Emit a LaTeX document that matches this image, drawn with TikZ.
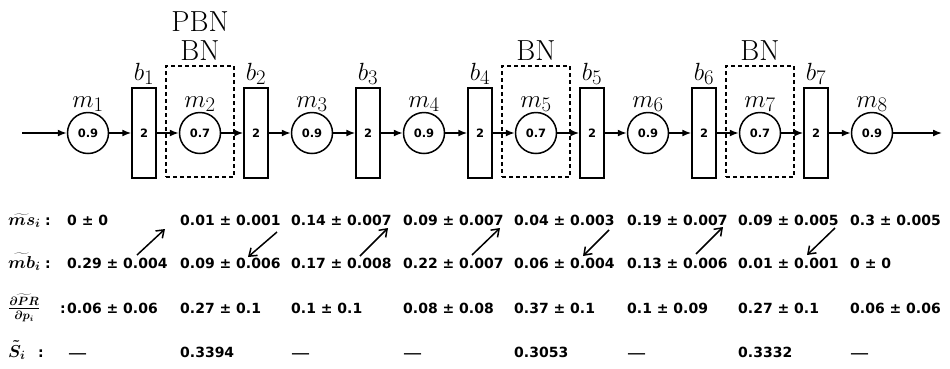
\documentclass[tikz,border=0pt]{standalone}
\usepackage{fontspec}
\usetikzlibrary{arrows.meta}
\newfontfamily\numfont{DejaVu Sans}

\tikzset{
  machine/.style={circle, draw, line width=1.5pt, minimum size=41pt, inner sep=0pt,
    font=\numfont\bfseries\fontsize{11.5}{11.5}\selectfont},
  buffer/.style={rectangle, draw, line width=1.5pt, minimum width=24pt, minimum height=90pt,
    inner sep=0pt, font=\numfont\bfseries\fontsize{11.5}{11.5}\selectfont},
  flow/.style={-{Latex[length=9pt,width=7pt]}, line width=1.5pt},
  bnbox/.style={draw, line width=1.3pt, dash pattern=on 4pt off 3pt,
    minimum width=68pt, minimum height=111pt, inner sep=0pt},
  biglab/.style={anchor=base, inner sep=0pt, font=\fontsize{29}{29}\selectfont},
  rowlab/.style={anchor=base west, inner sep=0pt, font=\fontsize{16.5}{16.5}\selectfont\boldmath},
  val/.style={anchor=base west, inner sep=0pt, font=\numfont\bfseries\fontsize{14}{14}\selectfont},
  dashval/.style={anchor=base west, inner sep=0pt, font=\numfont\fontsize{19}{19}\selectfont},
  shiftarrow/.style={-{Straight Barb[length=7pt,width=10pt]}, line width=1.5pt},
}

\begin{document}
\begin{tikzpicture}[x=1pt,y=-1pt]
\useasboundingbox (0,0) rectangle (950,368);

% bottleneck frames around the slow machines
\foreach \k in {2,5,7}{
  \node[bnbox] (bn\k) at ({88+112*(\k-1)},121.5) {};
  \node[biglab] (bnlab\k) at ({88+112*(\k-1)},60) {BN};
}
\node[biglab] (pbn) at (200,31) {PBN};

% machines and their efficiencies
\foreach \k/\e in {1/0.9,2/0.7,3/0.9,4/0.9,5/0.7,6/0.9,7/0.7,8/0.9}{
  \node[machine] (m\k) at ({88+112*(\k-1)},133) {\e};
  \node[biglab] (mlab\k) at ({88+112*(\k-1)},107) {$m_{\k}$};
}

% buffers
\foreach \k in {1,...,7}{
  \node[buffer] (b\k) at ({144+112*(\k-1)},133) {2};
  \node[biglab] (blab\k) at ({144+112*(\k-1)},80) {$b_{\k}$};
}

% material flow
\coordinate (in) at (22,133);
\coordinate (out) at (942,133);
\draw[flow] (in) -- (m1);
\foreach \k [evaluate=\k as \n using int(\k+1)] in {1,...,7}{
  \draw[flow] (m\k) -- (b\k);
  \draw[flow] (b\k) -- (m\n);
}
\draw[flow] (m8) -- (out);

% row labels
\node[rowlab] (lms) at (8,225) {$\widetilde{ms}_i$};
\node[val] (cms) at (45,225) {:};
\node[rowlab] (lmb) at (8,268) {$\widetilde{mb}_i$};
\node[val] (cmb) at (45,268) {:};
\node[rowlab] (ldp) at (8,313) {$\widetilde{\frac{\partial PR}{\partial p_i}}$};
\node[val] (colon3) at (60,313) {:};
\node[rowlab] (ls) at (8,357) {$\tilde{S}_i$};
\node[val] (cs) at (38,357) {:};

% table of results
\foreach \x/\a/\b/\c [count=\i] in {
  67/0 ± 0/0.29 ± 0.004/0.06 ± 0.06,
  180/0.01 ± 0.001/0.09 ± 0.006/0.27 ± 0.1,
  291/0.14 ± 0.007/0.17 ± 0.008/0.1 ± 0.1,
  403/0.09 ± 0.007/0.22 ± 0.007/0.08 ± 0.08,
  514/0.04 ± 0.003/0.06 ± 0.004/0.37 ± 0.1,
  627/0.19 ± 0.007/0.13 ± 0.006/0.1 ± 0.09,
  738/0.09 ± 0.005/0.01 ± 0.001/0.27 ± 0.1,
  850/0.3 ± 0.005/0 ± 0/0.06 ± 0.06}{
  \node[val] (ms\i) at (\x,225) {\a};
  \node[val] (mb\i) at (\x,268) {\b};
  \node[val] (dp\i) at (\x,313) {\c};
}
\node[dashval] (s1) at (68,359) {—};
\node[val] (s2) at (180,357) {0.3394};
\node[dashval] (s3) at (291,359) {—};
\node[dashval] (s4) at (403,359) {—};
\node[val] (s5) at (514,357) {0.3053};
\node[dashval] (s6) at (627,359) {—};
\node[val] (s7) at (738,357) {0.3332};
\node[dashval] (s8) at (850,359) {—};

% shifts between the two rows
\foreach \i/\xa/\ya/\xb/\yb in {1/137/255/165/229, 2/277/232/248/257, 3/360/256/388/228,
    4/472/255/500/228, 5/609/230/583/256, 6/696/254/723/227, 7/835/228/807/255}{
  \coordinate (sa\i) at (\xa,\ya);
  \coordinate (sb\i) at (\xb,\yb);
  \draw[shiftarrow] (sa\i) -- (sb\i);
}
\end{tikzpicture}
\end{document}
